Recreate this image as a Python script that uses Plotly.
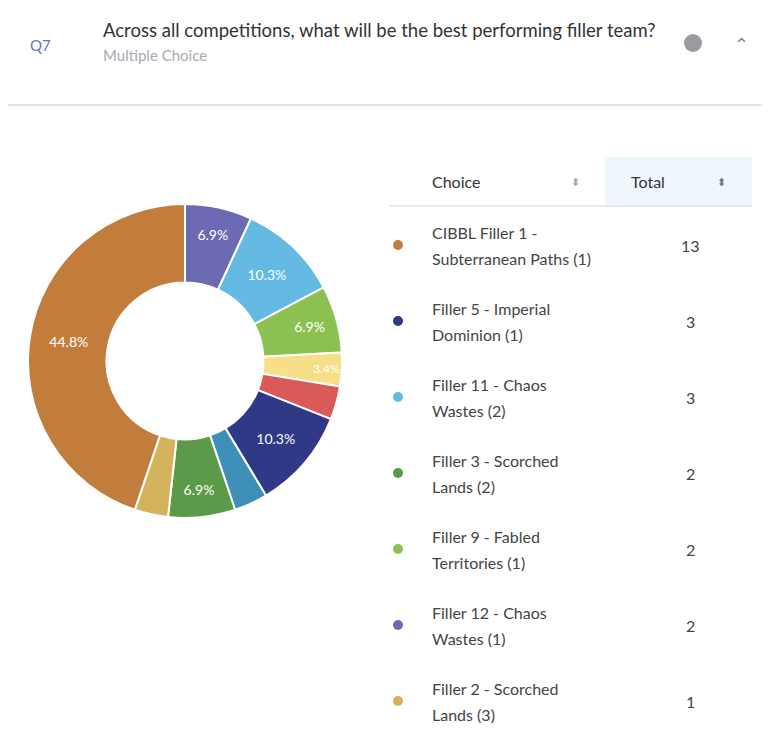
import plotly.graph_objects as go

# slices in clockwise order from 12 o'clock
slice_names = ["Filler 12 - Chaos Wastes (1)", "Filler 11 - Chaos Wastes (2)",
               "Filler 9 - Fabled Territories (1)", "Filler A", "Filler B",
               "Filler 5 - Imperial Dominion (1)", "Filler C",
               "Filler 3 - Scorched Lands (2)", "Filler 2 - Scorched Lands (3)",
               "CIBBL Filler 1 - Subterranean Paths (1)"]
slice_values = [2, 3, 2, 1, 1, 3, 1, 2, 1, 13]
slice_colors = ["#6b6ab3", "#64bae3", "#8cc152", "#f6df87", "#d95a58",
                "#2f3986", "#3d8fb8", "#5b9a48", "#d3b45c", "#c27d3d"]
slice_show = [True, True, True, True, False, True, False, True, False, True]

# table rows
row_line1 = ["CIBBL Filler 1 -", "Filler 5 - Imperial", "Filler 11 - Chaos",
             "Filler 3 - Scorched", "Filler 9 - Fabled", "Filler 12 - Chaos",
             "Filler 2 - Scorched"]
row_line2 = ["Subterranean Paths (1)", "Dominion (1)", "Wastes (2)", "Lands (2)",
             "Territories (1)", "Wastes (1)", "Lands (3)"]
row_totals = [13, 3, 3, 2, 2, 2, 1]
row_colors = ["#c27d3d", "#2f3986", "#64bae3", "#5b9a48", "#8cc152", "#6b6ab3", "#d3b45c"]

W, H = 770, 743
OFF = 8  # page body margin
FONT = "Lato, Open Sans, sans-serif"
total = sum(slice_values)
texts = [f"{v / total * 100:.1f}%" if s else "" for v, s in zip(slice_values, slice_show)]

fig = go.Figure()
fig.add_trace(go.Pie(
    values=slice_values, labels=slice_names, marker=dict(colors=slice_colors, line=dict(color="white", width=2)),
    hole=0.5, sort=False, direction="clockwise", rotation=0,
    text=texts, textinfo="text", textposition="inside", insidetextorientation="horizontal",
    textfont=dict(color="white", size=14, family=FONT), showlegend=False,
    domain=dict(x=[(28 - OFF) / W, (342 - OFF) / W], y=[1 - (518 - OFF) / H, 1 - (204 - OFF) / H]),
))

row_y = [245 + 76 * i for i in range(len(row_totals))]
fig.add_trace(go.Scatter(x=[398] * len(row_y), y=row_y, mode="markers",
                         marker=dict(color=row_colors, size=10), showlegend=False, hoverinfo="skip"))

ann = []
def txt(x, y, s, size=16, color="#333", xanchor="left", **kw):
    ann.append(dict(x=x, y=y, xref="x", yref="y", text=s, showarrow=False, xanchor=xanchor,
                    yanchor="middle", font=dict(size=size, color=color, family=FONT), **kw))

txt(28, 45, "Q7", size=15, color="#6b70c6")
txt(101, 30, "Across all competitions, what will be the best performing filler team?", size=18.5, color="#333")
txt(101, 55, "Multiple Choice", size=15, color="#a9a9b3")
txt(430, 181, "Choice", size=16, color="#333")
txt(629, 181, "Total", size=16, color="#333")
txt(575, 181, "⬍", size=11, color="#aaa", xanchor="center")
txt(721, 181, "⬍", size=11, color="#777", xanchor="center")
txt(741, 44, "⌃", size=18, color="#888", xanchor="center")
for y, a, b, t in zip(row_y, row_line1, row_line2, row_totals):
    txt(430, y - 13, a, size=16, color="#444")
    txt(430, y + 13, b, size=16, color="#444")
    txt(690, y, str(t), size=16, color="#444", xanchor="center")

shapes = [
    dict(type="line", x0=0, x1=W + OFF, y0=105, y1=105, xref="x", yref="y", line=dict(color="#e3e3e3", width=2)),
    dict(type="rect", x0=605, x1=752, y0=157, y1=205, xref="x", yref="y", fillcolor="#eef7fb", line_width=0, layer="below"),
    dict(type="line", x0=390, x1=752, y0=206, y1=206, xref="x", yref="y", line=dict(color="#dde1e6", width=1.5)),
    dict(type="circle", x0=684, x1=702, y0=34, y1=52, xref="x", yref="y", fillcolor="#9a9aa2", line_width=0),
]

fig.update_layout(
    width=W, height=H, margin=dict(l=0, r=0, t=0, b=0),
    paper_bgcolor="white", plot_bgcolor="white",
    xaxis=dict(range=[OFF, W + OFF], visible=False, fixedrange=True),
    yaxis=dict(range=[H + OFF, OFF], visible=False, fixedrange=True),
    annotations=ann, shapes=shapes,
)
fig.write_html("out.html")
